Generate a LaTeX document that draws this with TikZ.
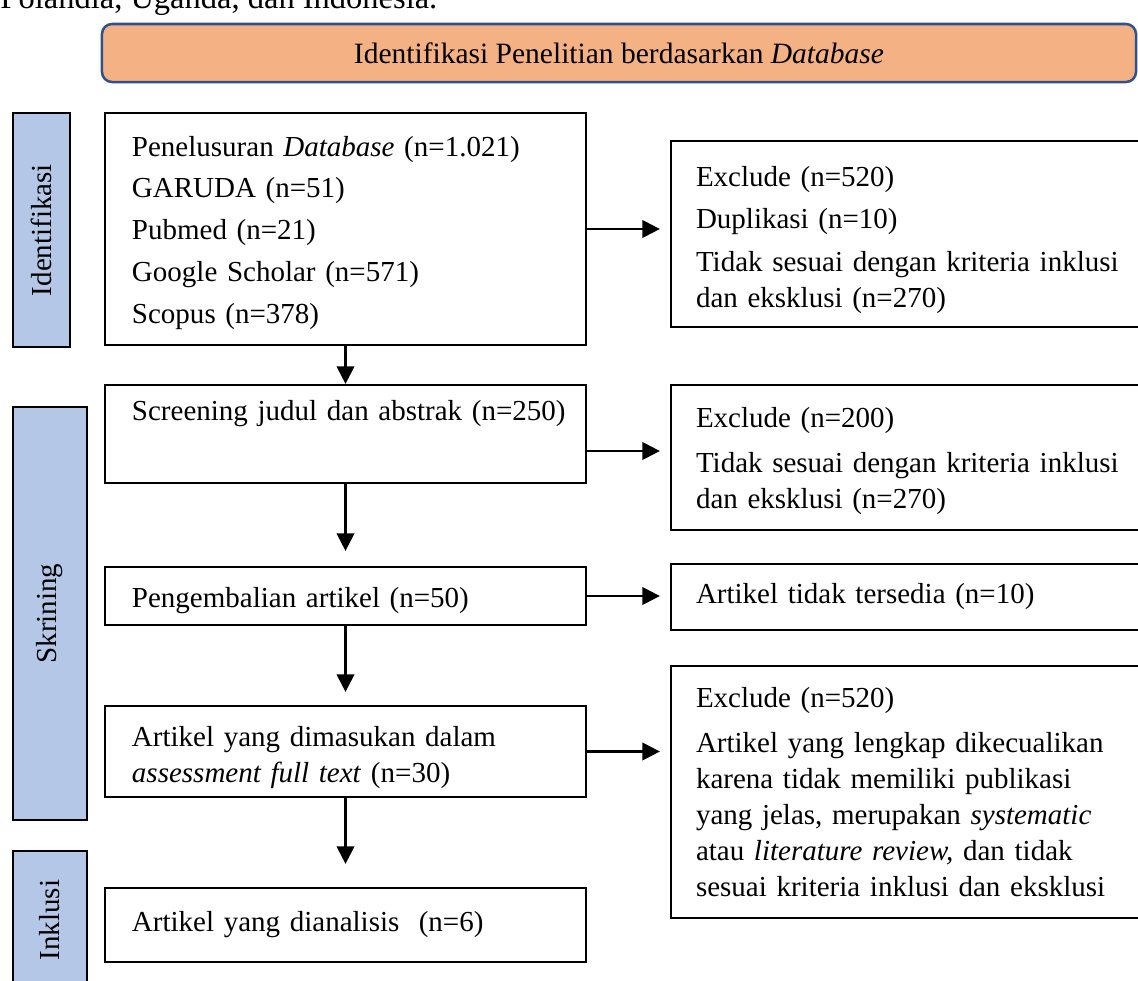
\documentclass[tikz,border=0pt]{standalone}
\usepackage{fontspec}
\setmainfont{Liberation Serif}
\usetikzlibrary{arrows.meta}
\definecolor{hdrfill}{HTML}{F4B183}
\definecolor{hdrline}{HTML}{2F528F}
\definecolor{lblfill}{HTML}{B4C7E7}
\newcommand{\jline}[1]{\makebox[170.8pt][s]{#1}}
\newcommand{\lift}[1]{\rule{0pt}{#1}}

\begin{document}
\begin{tikzpicture}[x=0.4pt, y=-0.4pt, >={Triangle[length=7pt,width=7pt]},
  font=\fontsize{11.6}{14.4}\selectfont,
  box/.style={draw=black, line width=0.9pt, fill=white, inner xsep=10.8pt, inner ysep=0pt, text width=170.8pt, align=left},
  side/.style={draw=black, line width=0.9pt, fill=white, inner xsep=10pt, inner ysep=0pt, text width=170.8pt, align=left},
  lbl/.style={draw=black, line width=0.9pt, fill=lblfill, rotate=90, inner sep=0pt},
  flow/.style={->, line width=0.9pt}]
\path[use as bounding box, clip] (0,0) rectangle (1138,980);

\node (intro) at (0,8) [anchor=base west, inner sep=0pt, font=\fontsize{13}{15}\selectfont] {Polandia, Uganda, dan Indonesia.};
\node (hdr) at (619,53) [draw=hdrline, line width=1pt, fill=hdrfill, rounded corners=4pt, minimum width=413.6pt, minimum height=23.2pt, font=\fontsize{11.8}{14.4}\selectfont] {Identifikasi Penelitian berdasarkan \textit{Database}};

\node (lblid) at (41.5,230) [lbl, minimum width=93.6pt, minimum height=22.8pt] {Identifikasi};
\node (lblsk) at (50,613.5) [lbl, minimum width=165.2pt, minimum height=29.6pt] {Skrining};
\node (lblin) at (50,920) [lbl, minimum width=55.2pt, minimum height=29.6pt] {Inklusi};

\node (b1) at (345.5,229) [box, minimum height=92.8pt] {\lift{11pt}Penelusuran \textit{Database} (n=1.021)\\[2.3pt]
  GARUDA (n=51)\\[2.3pt] Pubmed (n=21)\\[2.3pt] Google Scholar (n=571)\\[2.3pt] Scopus (n=378)};
\node (b2) at (345.5,434) [box, minimum height=39.2pt] {\mbox{Screening judul dan abstrak (n=250)}\\ \strut};
\node (b3) at (345.5,596) [box, minimum height=23.2pt] {\lift{12pt}Pengembalian artikel (n=50)};
\node (b4) at (345.5,751.5) [box, minimum height=36.4pt] {\lift{13pt}Artikel yang dimasukan dalam\\ \textit{assessment full text} (n=30)};
\node (b5) at (345.5,925) [box, minimum height=29.6pt] {Artikel yang dianalisis\ \ (n=6)};

\node (r1) at (909.5,234) [side, minimum height=74.4pt] {\lift{12.5pt}Exclude (n=520)\\[2.6pt] Duplikasi (n=10)\\[2.6pt]
  \jline{Tidak sesuai dengan kriteria inklusi}\\ dan eksklusi (n=270)};
\node (r2) at (909.5,457.5) [side, minimum height=58pt] {\lift{11pt}Exclude (n=200)\\[3.4pt]
  \jline{Tidak sesuai dengan kriteria inklusi}\\ dan eksklusi (n=270)};
\node (r3) at (909.5,597) [side, minimum height=26.4pt] {Artikel tidak tersedia (n=10)};
\node (r4) at (909.5,792) [side, minimum height=100.8pt] {Exclude (n=520)\\[3.6pt]
  \jline{Artikel yang lengkap dikecualikan}\\
  \jline{karena tidak memiliki publikasi}\\
  \jline{yang jelas, merupakan \textit{systematic}}\\
  \jline{atau \textit{literature review,} dan tidak}\\
  sesuai kriteria inklusi dan eksklusi};

\draw[flow] (b1) -- (b2);
\draw[flow, shorten >=6pt] (b2) -- (b3);
\draw[flow, shorten >=5.2pt] (b3) -- (b4);
\draw[flow, shorten >=9.2pt] (b4) -- (b5);
\draw[flow, shorten >=4pt] (b1.east) -- (b1.east -| r1.west);
\draw[flow, shorten >=4pt] ([yshift=-6.8pt]b2.east) -- ([yshift=-6.8pt]b2.east -| r2.west);
\draw[flow, shorten >=4pt] (b3.east) -- (b3.east -| r3.west);
\draw[flow, shorten >=4pt] (b4.east) -- (b4.east -| r4.west);
\end{tikzpicture}
\end{document}
